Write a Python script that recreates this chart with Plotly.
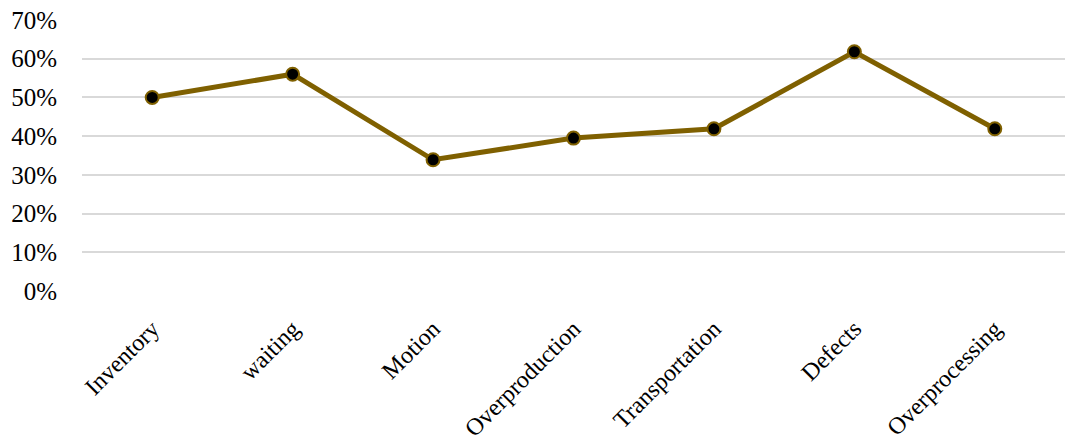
import plotly.graph_objects as go

categories = ["Inventory", "waiting", "Motion", "Overproduction", "Transportation", "Defects", "Overprocessing"]
values = [0.50, 0.56, 0.339, 0.395, 0.419, 0.618, 0.419]
y_ticks = [0, 0.1, 0.2, 0.3, 0.4, 0.5, 0.6, 0.7]
y_tick_labels = ["0%", "10%", "20%", "30%", "40%", "50%", "60%", "70%"]

fig = go.Figure()
fig.add_trace(go.Scatter(
    x=categories, y=values, mode="lines+markers",
    line=dict(color="#7F6000", width=5),
    marker=dict(color="#000000", size=13, line=dict(color="#7F6000", width=2)),
    showlegend=False,
))

font = dict(family="Liberation Serif, Times New Roman, serif", size=25, color="#000000")
xfont = dict(family="Liberation Serif, Times New Roman, serif", size=24, color="#000000")
fig.update_layout(
    width=1068, height=446,
    margin=dict(l=82, r=3, t=20, b=155),
    paper_bgcolor="white", plot_bgcolor="white",
    font=font,
)
fig.update_xaxes(
    type="category", tickangle=-45, showgrid=False, showline=False,
    ticks="", tickfont=xfont, range=[-0.5, 6.5], automargin=False,
    ticklabelstandoff=18,
)
fig.update_yaxes(
    range=[0, 0.7], tickvals=y_ticks, ticktext=y_tick_labels,
    showgrid=True, gridcolor="#d9d9d9", gridwidth=1.5,
    zeroline=False, showline=False, ticks="", tickfont=font, ticklabelstandoff=24,
    automargin=False,
)
post = ("document.body.style.margin='0';document.body.style.overflow='hidden';"
        "var gd=document.getElementById('{plot_id}');Plotly.relayout(gd,{width:1068,height:446});")
fig.write_html("out.html", post_script=post, config={"displayModeBar": False})
